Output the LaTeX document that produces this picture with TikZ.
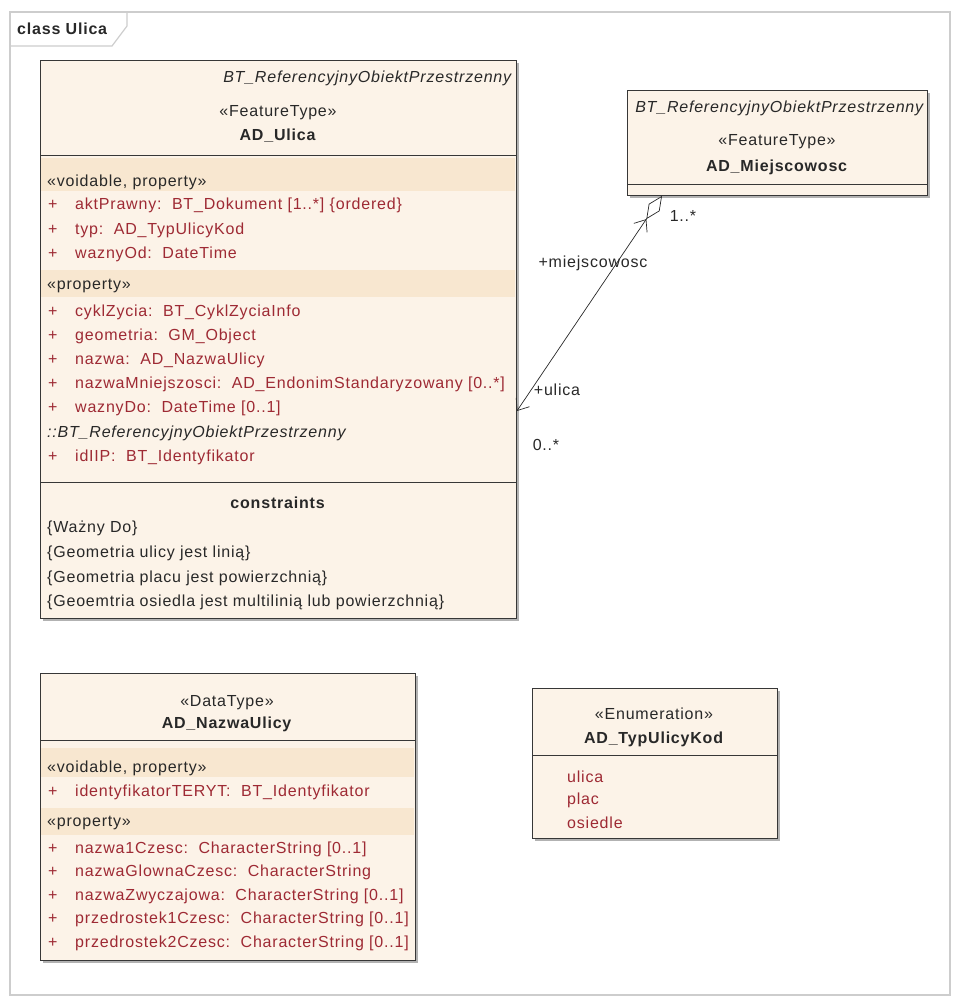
\documentclass[tikz,border=0pt]{standalone}
\usepackage{fontspec}
\setmainfont{Liberation Sans}[LetterSpace=5]
\usepackage{xcolor}
\usepackage{tikz}
\usetikzlibrary{arrows.meta,shadows}
\definecolor{UlicaFill}{RGB}{252,243,232}
\definecolor{UlicaBand}{RGB}{248,231,208}
\definecolor{UlicaLine}{RGB}{55,55,55}
\definecolor{UlicaText}{RGB}{40,40,40}
\definecolor{UlicaAttr}{RGB}{158,42,52}
\definecolor{UlicaFrame}{RGB}{205,205,205}

\tikzset{
  classbox/.style={draw=UlicaLine, fill=UlicaFill, line width=0.9pt, inner sep=0pt, anchor=north west,
    drop shadow={shadow xshift=3pt, shadow yshift=-3pt, fill=black, opacity=0.3}},
  sepline/.style={draw=UlicaLine, line width=0.9pt},
  band/.style={fill=UlicaBand},
  txt/.style={inner sep=0pt, text=UlicaText},
  stereo/.style={inner sep=0pt, anchor=west, text=UlicaText},
  attr/.style={inner sep=0pt, anchor=west, text=UlicaAttr},
  assoc/.style={draw=UlicaText, line width=0.7pt},
}
\newcommand{\attrplus}{\makebox[27pt][l]{+}}

\begin{document}
\begin{tikzpicture}[x=1pt, y=-1pt, font=\fontsize{16}{19}\selectfont]
    \useasboundingbox (0,0) rectangle (960,1001);

    % Diagram frame
    \draw[UlicaFrame, line width=1.2pt] (10,12) rectangle (950,995);
    \draw[UlicaFrame, line width=1.2pt] (10,46) -- (112,46) -- (127,26) -- (127,12);
    \node[stereo] (frameTitle) at (17,29) {\textbf{class Ulica}};

    % AD_Ulica
    \node[classbox, minimum width=476pt, minimum height=558pt] (ulica) at (40,60) {};
    \fill[band] (41,158) rectangle (515,191);
    \fill[band] (41,270) rectangle (515,297);
    \draw[sepline] (ulica.west |- 0,155) -- (ulica.east |- 0,155);
    \draw[sepline] (ulica.west |- 0,482) -- (ulica.east |- 0,482);
    \node[txt, anchor=east] (uParent) at (513,78) {\textit{BT\_ReferencyjnyObiektPrzestrzenny}};
    \node[txt] (uStereo) at (278,113) {«FeatureType»};
    \node[txt] (uName) at (278,136) {\textbf{AD\_Ulica}};
    \node[stereo] (uVoid) at (47,182) {«voidable, property»};
    \node[attr] (uAkt) at (48,205) {\attrplus aktPrawny:\ \ BT\_Dokument [1..*] \{ordered\}};
    \node[attr] (uTyp) at (48,230) {\attrplus typ:\ \ AD\_TypUlicyKod};
    \node[attr] (uWazOd) at (48,254) {\attrplus waznyOd:\ \ DateTime};
    \node[stereo] (uProp) at (47,286) {«property»};
    \node[attr] (uCykl) at (48,312) {\attrplus cyklZycia:\ \ BT\_CyklZyciaInfo};
    \node[attr] (uGeom) at (48,336) {\attrplus geometria:\ \ GM\_Object};
    \node[attr] (uNazwa) at (48,360) {\attrplus nazwa:\ \ AD\_NazwaUlicy};
    \node[attr] (uMniej) at (48,384) {\attrplus nazwaMniejszosci:\ \ AD\_EndonimStandaryzowany [0..*]};
    \node[attr] (uWazDo) at (48,408) {\attrplus waznyDo:\ \ DateTime [0..1]};
    \node[stereo] (uInher) at (47,433) {\textit{::BT\_ReferencyjnyObiektPrzestrzenny}};
    \node[attr] (uIdIIP) at (48,457) {\attrplus idIIP:\ \ BT\_Identyfikator};
    \node[txt] (uConstr) at (278,503) {\textbf{constraints}};
    \node[stereo] (uC1) at (47,528) {\{Ważny Do\}};
    \node[stereo] (uC2) at (47,553) {\{Geometria ulicy jest linią\}};
    \node[stereo] (uC3) at (47,578) {\{Geometria placu jest powierzchnią\}};
    \node[stereo] (uC4) at (47,602) {\{Geoemtria osiedla jest multilinią lub powierzchnią\}};

    % AD_Miejscowosc
    \node[classbox, minimum width=300pt, minimum height=105pt] (miejsc) at (627,90) {};
    \draw[sepline] (miejsc.west |- 0,184) -- (miejsc.east |- 0,184);
    \node[txt, anchor=east] (mParent) at (925,108) {\textit{BT\_ReferencyjnyObiektPrzestrzenny}};
    \node[txt] (mStereo) at (777,142) {«FeatureType»};
    \node[txt] (mName) at (777,167) {\textbf{AD\_Miejscowosc}};

    % Association ulica - miejscowosc
    \coordinate (mEnd) at ([xshift=35pt]miejsc.south west);
    \coordinate (uEnd) at (ulica.east |- 0,411);
    \draw[assoc, {Straight Barb[length=10pt,width=16pt]}-{Straight Barb[length=10pt,width=16pt]Diamond[fill=white,length=28pt,width=13pt]}] (uEnd) -- (mEnd);
    \node[txt] (mRole) at (593,263) {+miejscowosc};
    \node[txt] (mMult) at (683,216) {1..*};
    \node[txt] (uRole) at (557,390) {+ulica};
    \node[txt] (uMult) at (546,445) {0..*};

    % AD_NazwaUlicy
    \node[classbox, minimum width=375pt, minimum height=287pt] (nazwa) at (40,673) {};
    \fill[band] (41,748) rectangle (414,777);
    \fill[band] (41,808) rectangle (414,835);
    \draw[sepline] (nazwa.west |- 0,740) -- (nazwa.east |- 0,740);
    \node[txt] (nStereo) at (227,703) {«DataType»};
    \node[txt] (nName) at (227,724) {\textbf{AD\_NazwaUlicy}};
    \node[stereo] (nVoid) at (47,768) {«voidable, property»};
    \node[attr] (nTeryt) at (48,792) {\attrplus identyfikatorTERYT:\ \ BT\_Identyfikator};
    \node[stereo] (nProp) at (47,823) {«property»};
    \node[attr] (nN1) at (48,849) {\attrplus nazwa1Czesc:\ \ CharacterString [0..1]};
    \node[attr] (nNG) at (48,872) {\attrplus nazwaGlownaCzesc:\ \ CharacterString};
    \node[attr] (nNZ) at (48,896) {\attrplus nazwaZwyczajowa:\ \ CharacterString [0..1]};
    \node[attr] (nP1) at (48,919) {\attrplus przedrostek1Czesc:\ \ CharacterString [0..1]};
    \node[attr] (nP2) at (48,943) {\attrplus przedrostek2Czesc:\ \ CharacterString [0..1]};

    % AD_TypUlicyKod
    \node[classbox, minimum width=245pt, minimum height=150pt] (typ) at (532,688) {};
    \draw[sepline] (typ.west |- 0,755) -- (typ.east |- 0,755);
    \node[txt] (tStereo) at (654,714) {«Enumeration»};
    \node[txt] (tName) at (654,739) {\textbf{AD\_TypUlicyKod}};
    \node[attr] (tUlica) at (567,777) {ulica};
    \node[attr] (tPlac) at (567,800) {plac};
    \node[attr] (tOsiedle) at (567,823) {osiedle};
\end{tikzpicture}
\end{document}
